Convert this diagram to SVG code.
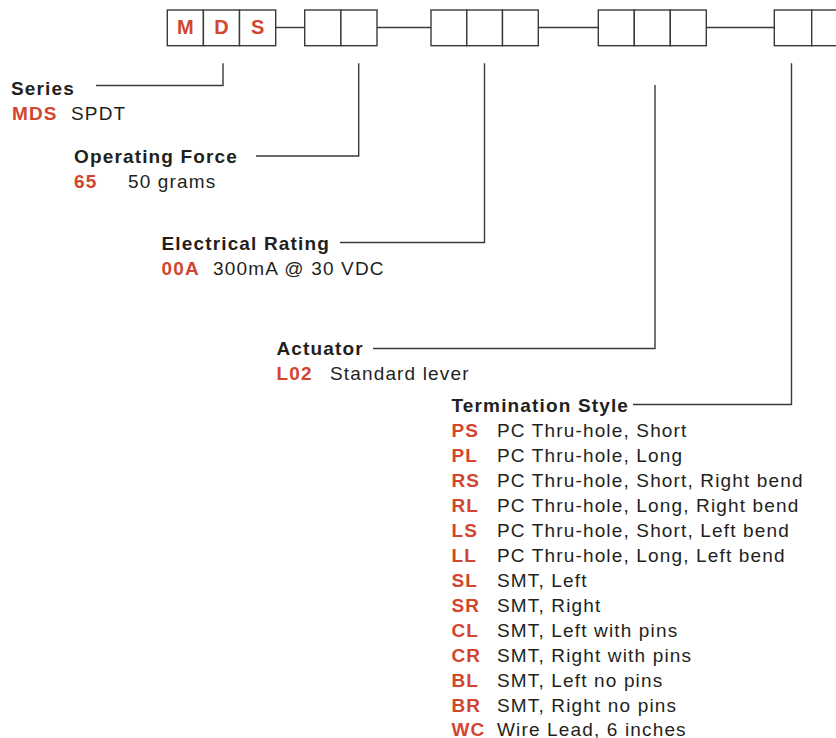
<svg xmlns="http://www.w3.org/2000/svg" width="836" height="738" viewBox="0 0 836 738">
<style>
.box{fill:#fff;stroke:#3a3a3a;stroke-width:1.4}
.ln{fill:none;stroke:#3a3a3a;stroke-width:1.4}
text{font-family:"Liberation Sans",Arial,Helvetica,sans-serif;font-size:19px;letter-spacing:1.15px}
.h{font-weight:bold;fill:#231f20}
.c{font-weight:bold;fill:#d2452f}
.d{fill:#231f20}
.bx{font-weight:bold;fill:#d2452f;font-size:20px;letter-spacing:0;text-anchor:middle}
</style>
<rect width="836" height="738" fill="#fff"/>
<g id="connectors">
<line class="ln" x1="275.7" y1="27.5" x2="304.7" y2="27.5"/>
<line class="ln" x1="377" y1="27.5" x2="431" y2="27.5"/>
<line class="ln" x1="538.3" y1="27.5" x2="598.3" y2="27.5"/>
<line class="ln" x1="706.3" y1="27.5" x2="774.3" y2="27.5"/>
<polyline class="ln" points="223,63.3 223,85.5 96,85.5"/>
<polyline class="ln" points="358.7,63.3 358.7,156 256,156"/>
<polyline class="ln" points="484.5,63.3 484.5,242.5 340,242.5"/>
<polyline class="ln" points="655,85 655,348.5 373,348.5"/>
<polyline class="ln" points="791.5,63.3 791.5,404.5 633,404.5"/>
</g>
<g id="box-series">
<rect class="box" x="167.3" y="10" width="36.1" height="35.7"/>
<rect class="box" x="203.4" y="10" width="36.1" height="35.7"/>
<rect class="box" x="239.5" y="10" width="36.2" height="35.7"/>
<text class="bx" x="185.4" y="34">M</text>
<text class="bx" x="221.5" y="34">D</text>
<text class="bx" x="257.6" y="34">S</text>
</g>
<g id="box-force">
<rect class="box" x="304.7" y="10" width="36.2" height="35.7"/>
<rect class="box" x="340.9" y="10" width="36.1" height="35.7"/>
</g>
<g id="box-rating">
<rect class="box" x="431" y="10" width="35.8" height="35.7"/>
<rect class="box" x="466.8" y="10" width="35.7" height="35.7"/>
<rect class="box" x="502.5" y="10" width="35.8" height="35.7"/>
</g>
<g id="box-actuator">
<rect class="box" x="598.3" y="10" width="36" height="35.7"/>
<rect class="box" x="634.3" y="10" width="36" height="35.7"/>
<rect class="box" x="670.3" y="10" width="36" height="35.7"/>
</g>
<g id="box-termination">
<rect class="box" x="774.3" y="10" width="37.4" height="35.7"/>
<rect class="box" x="811.7" y="10" width="37" height="35.7"/>
</g>
<g id="series">
<text class="h" x="11" y="95">Series</text>
<text class="c" x="12" y="120">MDS</text>
<text class="d" x="71" y="120">SPDT</text>
</g>
<g id="operating-force">
<text class="h" x="74" y="163">Operating Force</text>
<text class="c" x="74" y="188">65</text>
<text class="d" x="128" y="188">50 grams</text>
</g>
<g id="electrical-rating">
<text class="h" x="161.5" y="250">Electrical Rating</text>
<text class="c" x="161.5" y="275">00A</text>
<text class="d" x="213" y="275">300mA @ 30 VDC</text>
</g>
<g id="actuator">
<text class="h" x="276.5" y="355">Actuator</text>
<text class="c" x="276.5" y="380">L02</text>
<text class="d" x="330" y="380">Standard lever</text>
</g>
<g id="termination-style">
<text class="h" x="451.5" y="411.5">Termination Style</text>
<text class="c" x="451.5" y="437">PS</text><text class="d" x="497" y="437">PC Thru-hole, Short</text>
<text class="c" x="451.5" y="462">PL</text><text class="d" x="497" y="462">PC Thru-hole, Long</text>
<text class="c" x="451.5" y="487">RS</text><text class="d" x="497" y="487">PC Thru-hole, Short, Right bend</text>
<text class="c" x="451.5" y="512">RL</text><text class="d" x="497" y="512">PC Thru-hole, Long, Right bend</text>
<text class="c" x="451.5" y="537">LS</text><text class="d" x="497" y="537">PC Thru-hole, Short, Left bend</text>
<text class="c" x="451.5" y="562">LL</text><text class="d" x="497" y="562">PC Thru-hole, Long, Left bend</text>
<text class="c" x="451.5" y="587">SL</text><text class="d" x="497" y="587">SMT, Left</text>
<text class="c" x="451.5" y="612">SR</text><text class="d" x="497" y="612">SMT, Right</text>
<text class="c" x="451.5" y="637">CL</text><text class="d" x="497" y="637">SMT, Left with pins</text>
<text class="c" x="451.5" y="662">CR</text><text class="d" x="497" y="662">SMT, Right with pins</text>
<text class="c" x="451.5" y="687">BL</text><text class="d" x="497" y="687">SMT, Left no pins</text>
<text class="c" x="451.5" y="712">BR</text><text class="d" x="497" y="712">SMT, Right no pins</text>
<text class="c" x="451.5" y="736">WC</text><text class="d" x="497" y="736">Wire Lead, 6 inches</text>
</g>
</svg>
